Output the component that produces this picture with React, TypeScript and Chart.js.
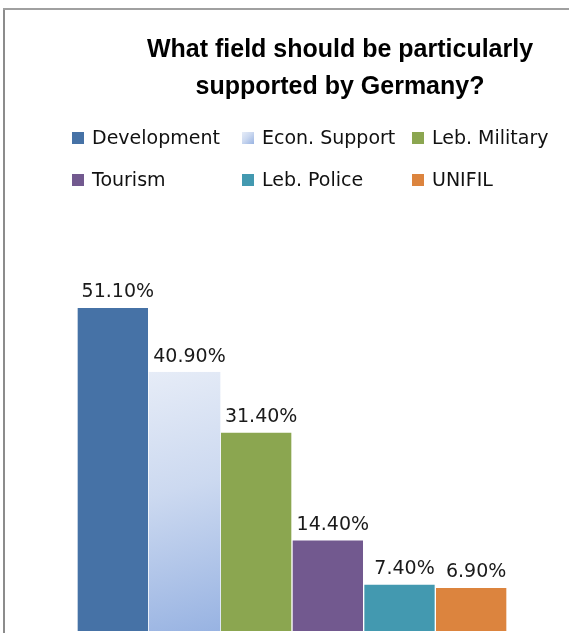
import { useEffect, useRef } from "react";
import { Chart, registerables } from "chart.js";

Chart.register(...registerables);

const categories = [""];
const seriesNames = ["Development", "Econ. Support", "Leb. Military", "Tourism", "Leb. Police", "UNIFIL"];
const seriesValues = [51.1, 40.9, 31.4, 14.4, 7.4, 6.9];
const seriesColors = ["#4672A6", "#C6D5EE", "#8BA650", "#72598F", "#4399B0", "#DC843E"];
const titleLines = ["What field should be particularly", "supported by Germany?"];

const W = 569;
const H = 633;
const LABEL_FONT = "19px 'DejaVu Sans', Verdana, sans-serif";
const TITLE_FONT = "bold 25px 'Liberation Sans', Arial, sans-serif";

function econGradient(ctx: CanvasRenderingContext2D, l: number, t: number, r: number, b: number) {
  const g = ctx.createLinearGradient(l, t, r, b);
  g.addColorStop(0, "#E6ECF7");
  g.addColorStop(0.45, "#CCD9F0");
  g.addColorStop(1, "#98B3E2");
  return g;
}

const framePlugin = {
  id: "frame",
  beforeDraw(chart: any) {
    const ctx = chart.ctx as CanvasRenderingContext2D;
    ctx.save();
    ctx.fillStyle = "#ffffff";
    ctx.fillRect(0, 0, chart.width, chart.height);
    ctx.fillStyle = "#8c8c8c";
    ctx.fillRect(3, 8, 2, chart.height - 8);
    ctx.fillStyle = "#a0a0a0";
    ctx.fillRect(3, 8, chart.width - 3, 2);
    ctx.restore();
  },
};

const gradientPlugin = {
  id: "econGradient",
  afterDatasetDraw(chart: any, args: any) {
    if (args.index !== 1) return;
    const meta = chart.getDatasetMeta(1);
    const ctx = chart.ctx as CanvasRenderingContext2D;
    meta.data.forEach((el: any) => {
      const p = el.getProps(["x", "y", "base", "width"], true);
      const l = p.x - p.width / 2;
      const r = p.x + p.width / 2;
      ctx.save();
      ctx.fillStyle = econGradient(ctx, l, p.y, r, p.base);
      ctx.fillRect(l, p.y, p.width, p.base - p.y);
      ctx.restore();
    });
  },
};

const valueLabelPlugin = {
  id: "valueLabels",
  afterDatasetsDraw(chart: any) {
    const ctx = chart.ctx as CanvasRenderingContext2D;
    ctx.save();
    ctx.font = LABEL_FONT;
    ctx.fillStyle = "#1a1a1a";
    ctx.textAlign = "center";
    ctx.textBaseline = "alphabetic";
    chart.data.datasets.forEach((ds: any, i: number) => {
      const meta = chart.getDatasetMeta(i);
      meta.data.forEach((el: any, j: number) => {
        const p = el.getProps(["x", "y"], true);
        const v = ds.data[j] as number;
        ctx.fillText(v.toFixed(2) + "%", p.x + 5, p.y - 10);
      });
    });
    ctx.restore();
  },
};

const titleLegendPlugin = {
  id: "titleLegend",
  afterDraw(chart: any) {
    const ctx = chart.ctx as CanvasRenderingContext2D;
    ctx.save();
    ctx.fillStyle = "#000000";
    ctx.font = TITLE_FONT;
    ctx.textAlign = "center";
    ctx.textBaseline = "alphabetic";
    titleLines.forEach((line, i) => ctx.fillText(line, 340, 57 + i * 37));

    ctx.font = LABEL_FONT;
    ctx.textAlign = "left";
    const colX = [72, 242, 412];
    const rowY = [144, 186];
    chart.data.datasets.forEach((ds: any, i: number) => {
      const col = i % 3;
      const row = Math.floor(i / 3);
      const bx = colX[col];
      const by = rowY[row] - 12;
      if (i === 1) {
        ctx.fillStyle = econGradient(ctx, bx, by, bx + 12, by + 12);
      } else {
        ctx.fillStyle = ds.backgroundColor;
      }
      ctx.fillRect(bx, by, 12, 12);
      ctx.fillStyle = "#111111";
      ctx.fillText(ds.label, bx + 20, rowY[row]);
    });
    ctx.restore();
  },
};

export default function App() {
  const ref = useRef<HTMLCanvasElement | null>(null);

  useEffect(() => {
    if (!ref.current) return;
    const chart = new Chart(ref.current, {
      type: "bar",
      data: {
        labels: categories,
        datasets: seriesNames.map((name, i) => ({
          label: name,
          data: [seriesValues[i]],
          backgroundColor: seriesColors[i],
          borderColor: "rgba(255,255,255,0.35)",
          borderWidth: 1,
          categoryPercentage: 1,
          barPercentage: 1,
        })),
      },
      options: {
        responsive: false,
        animation: false,
        layout: { padding: { left: 77, right: 62, top: 251, bottom: 2 } },
        plugins: {
          legend: { display: false },
          title: { display: false },
          tooltip: { enabled: false },
        },
        scales: {
          x: { display: false },
          y: { display: false, min: 0, max: 60 },
        },
      },
      plugins: [framePlugin, gradientPlugin, valueLabelPlugin, titleLegendPlugin],
    });
    return () => chart.destroy();
  }, []);

  return (
    <div style={{ position: "absolute", left: 0, top: 0, width: W, height: H }}>
      <canvas ref={ref} width={W} height={H} style={{ display: "block", width: W, height: H }} />
    </div>
  );
}
